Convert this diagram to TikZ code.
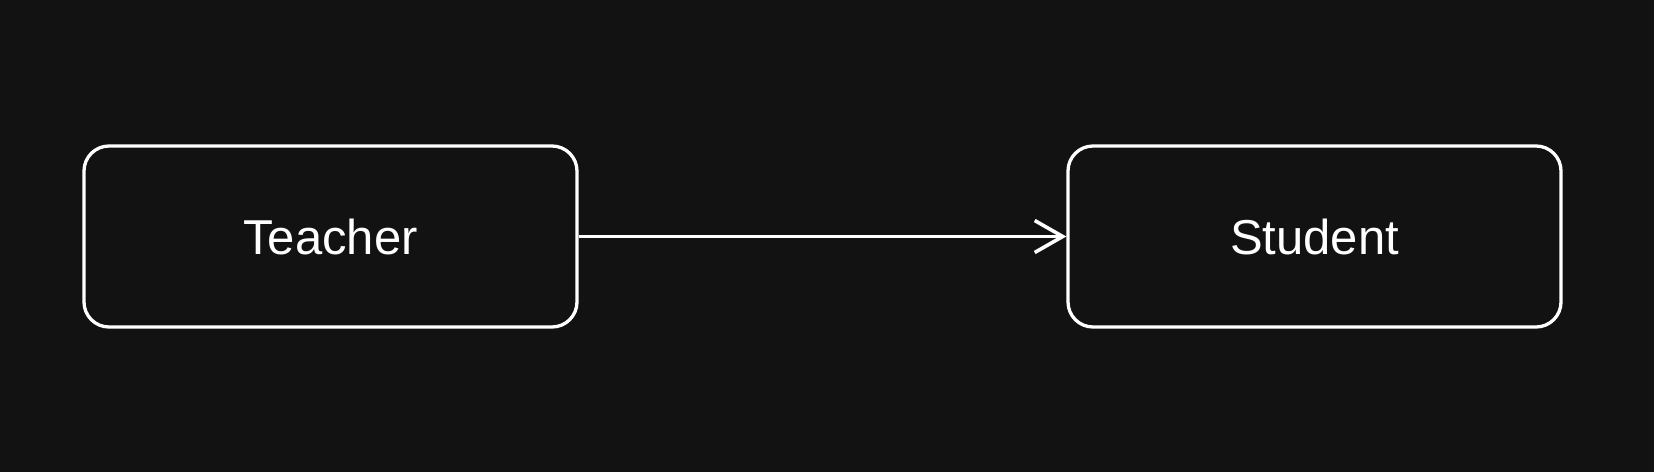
\documentclass[tikz,border=0pt]{standalone}
\usepackage{fontspec}
\setmainfont{Liberation Sans}
\usetikzlibrary{arrows.meta}
\definecolor{bg}{HTML}{121212}
\begin{document}
\begin{tikzpicture}[x=1pt,y=-1pt,
  box/.style={draw=white, line width=3.3pt, rounded corners=25pt, minimum width=493pt, minimum height=181pt, inner sep=0pt, font=\fontsize{49}{57}\selectfont, text=white},
  conn/.style={draw=white, line width=3.3pt, -{Straight Barb[length=28pt, width=32pt, line width=3.6pt]}}]
\fill[bg] (0,0) rectangle (1654,472);
\useasboundingbox (0,0) rectangle (1654,472);
\node[box] (teacher) at (330.5,236.5) {Teacher};
\node[box] (student) at (1314.5,236.5) {Student};
\draw[conn] (teacher.east) -- (student.west);
\end{tikzpicture}
\end{document}
